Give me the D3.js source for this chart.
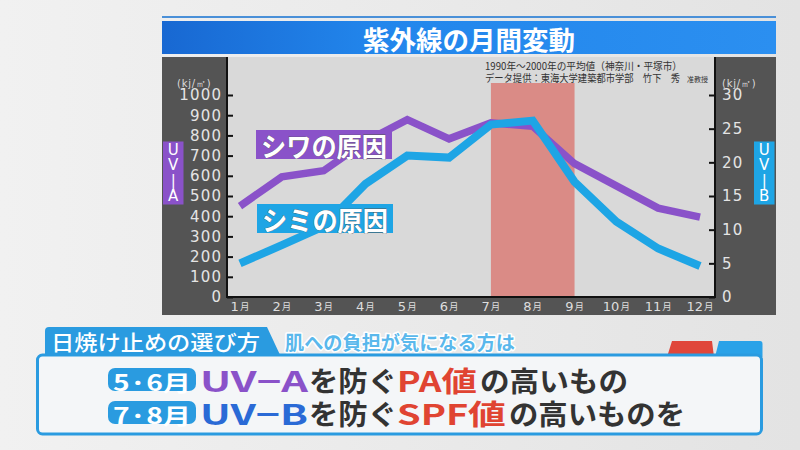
<!DOCTYPE html>
<html>
<head>
<meta charset="utf-8">
<script src="https://cdn.jsdelivr.net/npm/d3@7"></script>
<style>
  body { margin: 0; background: #e9e9e9; }
  svg { display: block; }
</style>
</head>
<body>
<svg width="800" height="450"></svg>
<script>
// data
const months = ["1月", "2月", "3月", "4月", "5月", "6月", "7月", "8月", "9月", "10月", "11月", "12月"];
const uvA = [450, 595, 625, 770, 878, 783, 862, 845, 660, 550, 440, 395];      // kj/㎡, left axis
const uvB = [5.0, 7.7, 10.5, 16.8, 21.0, 20.7, 25.6, 26.2, 17.1, 11.2, 7.2, 4.6]; // kj/㎡, right axis
const uvATicks = [0, 100, 200, 300, 400, 500, 600, 700, 800, 900, 1000];
const uvBTicks = [0, 5, 10, 15, 20, 25, 30];
const peakMonths = ["7月", "9月"];

const title = "紫外線の月間変動";
const unitLabel = "(kj/㎡)";
const axisNames = ["UV−A", "UV−B"];
const seriesNames = ["シワの原因", "シミの原因"];
const noteLine1 = "1990年～2000年の平均値（神奈川・平塚市）";
const noteLine2 = "データ提供：東海大学建築都市学部　竹下　秀";
const noteSuffix = "准教授";
const tipTitle = "日焼け止めの選び方";
const tipSub = "肌への負担が気になる方は";
const tipLines = [
  ["5·6月", "UV−A", "を防ぐ", "PA値", "の高いもの"],
  ["7·8月", "UV−B", "を防ぐ", "SPF値", "の高いものを"]
];

// layout
const JP = "'Noto Sans CJK JP', 'Noto Sans', sans-serif";
const NUM = "'DejaVu Sans', sans-serif";
const purple = "#8a52c9", sky = "#1ea5e5", boxBlue = "#2a9be0";

const svg = d3.select("svg");
const defs = svg.append("defs");

const bg = defs.append("linearGradient").attr("id", "bg");
bg.append("stop").attr("offset", "0").attr("stop-color", "#f1f1f1");
bg.append("stop").attr("offset", "1").attr("stop-color", "#e3e3e3");
svg.append("rect").attr("width", 800).attr("height", 450).attr("fill", "url(#bg)");

const tg = defs.append("linearGradient").attr("id", "titlebar");
tg.append("stop").attr("offset", "0").attr("stop-color", "#1868d2");
tg.append("stop").attr("offset", "0.35").attr("stop-color", "#2286ec");
tg.append("stop").attr("offset", "1").attr("stop-color", "#2b8ff0");

const panel = { left: 162, right: 776, top: 57, bottom: 315 };
const plot = { left: 227, right: 715, top: 57, bottom: 297 };

// title bar
svg.append("rect").attr("x", panel.left).attr("y", 16).attr("width", panel.right - panel.left)
  .attr("height", 2).attr("fill", "#4a90d8");
svg.append("rect").attr("x", panel.left).attr("y", 21).attr("width", panel.right - panel.left)
  .attr("height", 33).attr("fill", "url(#titlebar)");
svg.append("text").attr("x", (panel.left + panel.right) / 2).attr("y", 38)
  .attr("text-anchor", "middle").attr("dominant-baseline", "central")
  .attr("font-family", JP).attr("font-size", 26).attr("font-weight", 700)
  .attr("fill", "#fff").attr("textLength", 212).attr("lengthAdjust", "spacingAndGlyphs")
  .text(title);

// chart panel
svg.append("rect").attr("x", panel.left).attr("y", panel.top)
  .attr("width", panel.right - panel.left).attr("height", panel.bottom - panel.top)
  .attr("fill", "#545454");
svg.append("rect").attr("x", plot.left).attr("y", plot.top)
  .attr("width", plot.right - plot.left).attr("height", plot.bottom - plot.top)
  .attr("fill", "#d9d9d9");

const x = d3.scalePoint().domain(months).range([240, 700]);
const yA = d3.scaleLinear().domain([0, 1000]).range([plot.bottom, 95]);
const yB = d3.scaleLinear().domain([0, 30]).range([plot.bottom, 95]);

// peak season band
svg.append("rect")
  .attr("x", x(peakMonths[0])).attr("y", plot.top + 26)
  .attr("width", x(peakMonths[1]) - x(peakMonths[0]))
  .attr("height", plot.bottom - plot.top - 26)
  .attr("fill", "#da8b86");

// notes
svg.append("text").attr("x", 485).attr("y", 65).attr("dominant-baseline", "central")
  .attr("font-family", JP).attr("font-size", 10.5).attr("fill", "#333")
  .attr("textLength", 197).attr("lengthAdjust", "spacingAndGlyphs").text(noteLine1);
svg.append("text").attr("x", 485).attr("y", 77.5).attr("dominant-baseline", "central")
  .attr("font-family", JP).attr("font-size", 10.5).attr("fill", "#333")
  .attr("textLength", 195).attr("lengthAdjust", "spacingAndGlyphs").text(noteLine2);
svg.append("text").attr("x", 687).attr("y", 79).attr("dominant-baseline", "central")
  .attr("font-family", JP).attr("font-size", 7).attr("fill", "#333")
  .attr("textLength", 21).attr("lengthAdjust", "spacingAndGlyphs").text(noteSuffix);

// lines
const lineA = d3.line().x((d, i) => x(months[i])).y(d => yA(d));
const lineB = d3.line().x((d, i) => x(months[i])).y(d => yB(d));
svg.append("path").datum(uvA).attr("d", lineA)
  .attr("fill", "none").attr("stroke", purple).attr("stroke-width", 7.5);
svg.append("path").datum(uvB).attr("d", lineB)
  .attr("fill", "none").attr("stroke", sky).attr("stroke-width", 8);

// axes
const axL = svg.append("g").attr("transform", `translate(${plot.left},0)`)
  .call(d3.axisLeft(yA).tickValues(uvATicks).tickFormat(d3.format("d"))
    .tickSize(-6).tickPadding(6).tickSizeOuter(0));
const axR = svg.append("g").attr("transform", `translate(${plot.right},0)`)
  .call(d3.axisRight(yB).tickValues(uvBTicks).tickFormat(d3.format("d"))
    .tickSize(-6).tickPadding(7).tickSizeOuter(0));
[axL, axR].forEach(g => {
  g.select(".domain").remove();
  g.selectAll(".tick line").attr("stroke", "#111").attr("stroke-width", 2);
  g.selectAll(".tick text").attr("fill", "#e4e4e4").attr("font-family", NUM)
    .attr("font-size", 15).attr("letter-spacing", 1.2);
});
axL.selectAll(".tick text").attr("dx", 1.2);

svg.append("line").attr("x1", plot.left).attr("x2", plot.left)
  .attr("y1", plot.top).attr("y2", plot.bottom + 1).attr("stroke", "#111").attr("stroke-width", 2);
svg.append("line").attr("x1", plot.right).attr("x2", plot.right)
  .attr("y1", plot.top).attr("y2", plot.bottom + 1).attr("stroke", "#111").attr("stroke-width", 2);
svg.append("line").attr("x1", plot.left).attr("x2", plot.right)
  .attr("y1", plot.bottom).attr("y2", plot.bottom).attr("stroke", "#111").attr("stroke-width", 2);

// month labels
const mLab = svg.append("g").selectAll("text").data(months).join("text")
  .attr("x", d => x(d)).attr("y", 306).attr("text-anchor", "middle")
  .attr("dominant-baseline", "central").attr("fill", "#dedede");
mLab.append("tspan").attr("font-family", NUM).attr("font-size", 13).text(d => d.replace("月", ""));
mLab.append("tspan").attr("font-family", JP).attr("font-size", 9.5).attr("dx", 1).text("月");

// units
[panel.left + 15, plot.right + 7].forEach(ux => {
  svg.append("text").attr("x", ux).attr("y", 83).attr("dominant-baseline", "central")
    .attr("font-family", NUM).attr("font-size", 10).attr("fill", "#dcdcdc")
    .attr("letter-spacing", 0.8).text(unitLabel);
});

// vertical axis names
[[163, purple, axisNames[0]], [754, sky, axisNames[1]]].forEach(([bx, col, name]) => {
  svg.append("rect").attr("x", bx).attr("y", 141.5).attr("width", 20.5).attr("height", 63)
    .attr("fill", col);
  svg.append("g").selectAll("text").data(name.split("")).join("text")
    .attr("x", bx + 10.25).attr("y", (d, i) => 150 + i * 15.3)
    .attr("text-anchor", "middle").attr("dominant-baseline", "central")
    .attr("font-family", NUM).attr("font-size", 15).attr("fill", "#fff")
    .text(d => d === "−" ? "|" : d);
});

// series labels
[[256, 130, purple, seriesNames[0]], [257, 204, sky, seriesNames[1]]].forEach(([lx, ly, col, name]) => {
  svg.append("rect").attr("x", lx).attr("y", ly).attr("width", 136).attr("height", 29).attr("fill", col);
  svg.append("text").attr("x", lx + 5).attr("y", ly + 15).attr("dominant-baseline", "central")
    .attr("font-family", JP).attr("font-size", 27).attr("font-weight", 700)
    .attr("fill", "#fff").attr("stroke", "#555").attr("stroke-width", 0.6)
    .attr("paint-order", "stroke")
    .attr("textLength", 126).attr("lengthAdjust", "spacingAndGlyphs").text(name);
});

// bottom tip box
svg.append("path").attr("d", "M45,357 L45,331 Q45,327 49,327 L267,327 L281,357 Z").attr("fill", boxBlue);
svg.append("text").attr("x", 51).attr("y", 341).attr("dominant-baseline", "central")
  .attr("font-family", JP).attr("font-size", 21).attr("font-weight", 500).attr("fill", "#fff")
  .attr("textLength", 209).attr("lengthAdjust", "spacingAndGlyphs").text(tipTitle);
svg.append("text").attr("x", 285).attr("y", 341).attr("dominant-baseline", "central")
  .attr("font-family", JP).attr("font-size", 19).attr("font-weight", 700)
  .attr("fill", "#5ab8ec").attr("stroke", "#fff").attr("stroke-width", 3)
  .attr("paint-order", "stroke").attr("stroke-linejoin", "round")
  .attr("textLength", 230).attr("lengthAdjust", "spacingAndGlyphs").text(tipSub);
svg.append("path").attr("d", "M667,357 L672,341 L712,341 L714,357 Z").attr("fill", "#e0463a");
svg.append("path").attr("d", "M715,357 L719,341 L760,341 Q762.5,341 762.5,344 L762.5,357 Z").attr("fill", "#2aa2e8");
svg.append("rect").attr("x", 37.5).attr("y", 355).attr("width", 724).attr("height", 79).attr("rx", 5)
  .attr("fill", "#f4f6f8").attr("stroke", boxBlue).attr("stroke-width", 3);

const segColors = [[purple, "#333", "#e04432", "#333"], ["#2a6ad6", "#333", "#e04432", "#333"]];
const segPos = [[[200, 108], [309, 88], [397, 80], [480, 148]],
                [[200, 108], [309, 88], [397, 109], [509, 176]]];
tipLines.forEach((line, li) => {
  const cy = 379.5 + li * 33;
  svg.append("rect").attr("x", 108).attr("y", cy - 11.5).attr("width", 88).attr("height", 23)
    .attr("rx", 7).attr("fill", boxBlue);
  svg.append("text").attr("x", 152).attr("y", cy + 1).attr("text-anchor", "middle")
    .attr("dominant-baseline", "central").attr("font-family", JP).attr("font-size", 22)
    .attr("font-weight", 700).attr("fill", "#fff")
    .attr("textLength", 78).attr("lengthAdjust", "spacingAndGlyphs").text(line[0]);
  line.slice(1).forEach((seg, si) => {
    svg.append("text").attr("x", segPos[li][si][0]).attr("y", cy)
      .attr("dominant-baseline", "central").attr("font-family", JP).attr("font-size", 28)
      .attr("font-weight", 700).attr("fill", segColors[li][si])
      .attr("textLength", segPos[li][si][1]).attr("lengthAdjust", "spacingAndGlyphs").text(seg);
  });
});
</script>
</body>
</html>
